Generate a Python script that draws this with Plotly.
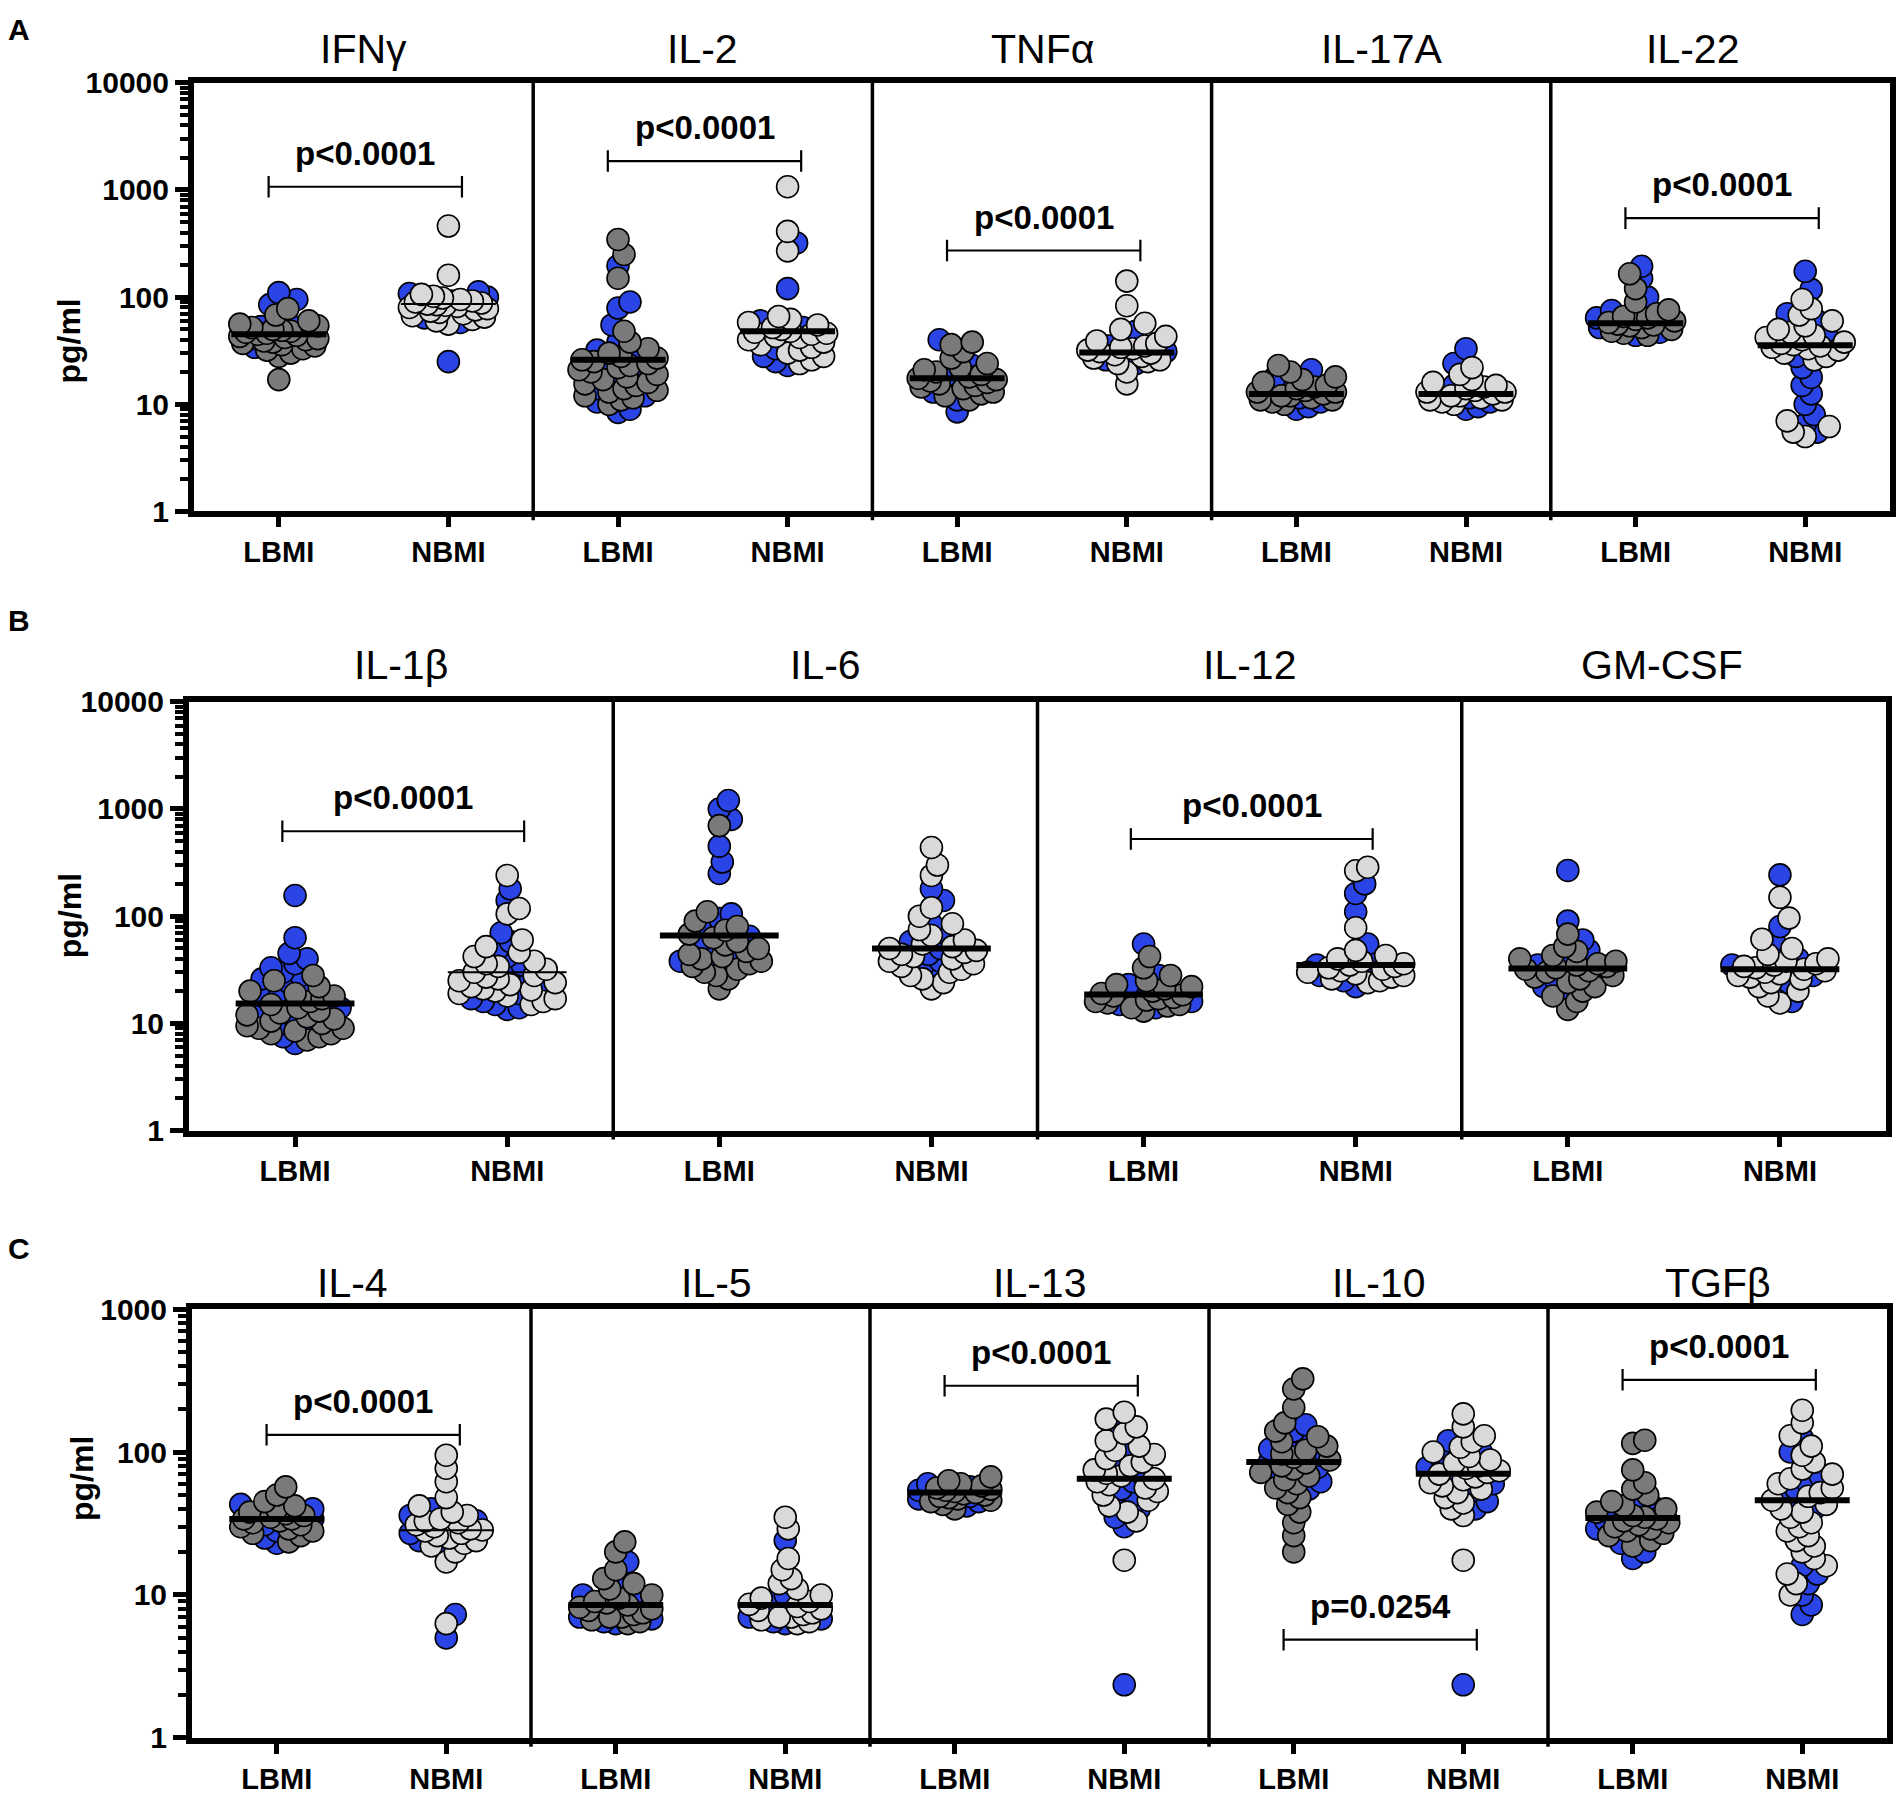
import numpy as np
import plotly.graph_objects as go

# ---------------- data (pg/ml) ----------------
ROW_A = ["IFNγ", "IL-2", "TNFα", "IL-17A", "IL-22"]
ROW_B = ["IL-1β", "IL-6", "IL-12", "GM-CSF"]
ROW_C = ["IL-4", "IL-5", "IL-13", "IL-10", "TGFβ"]
GROUPS = ["LBMI", "NBMI"]
Y_TICK_TEXT = ["1", "10", "100", "1000", "10000"]

IFNG_L_BLUE = [34, 38, 41, 44, 47, 50, 53, 58, 85, 95, 110]
IFNG_L_GRAY = [17, 28, 30, 32, 33, 35, 36, 37, 38, 39, 40, 41, 42, 43, 44, 45, 46, 47, 48, 49, 50, 52, 54, 56, 60, 68, 78]
IFNG_N_BLUE = [25, 58, 64, 70, 78, 85, 92, 100, 108, 112]
IFNG_N_GRAY = [56, 60, 62, 65, 67, 70, 72, 74, 76, 78, 80, 82, 84, 85, 86, 88, 90, 92, 95, 98, 102, 106, 160, 460]

IL2_L_BLUE = [8.4, 9, 10.5, 12, 14, 17, 20, 23, 27, 32, 38, 55, 79, 90, 196]
IL2_L_GRAY = [10, 11, 11.5, 12, 13, 13.5, 14, 15, 15.5, 16, 17, 18, 19, 20, 21, 22, 23, 24, 25, 26, 27, 28, 30, 33, 38, 48, 150, 250, 345]
IL2_N_BLUE = [23, 25, 28, 33, 40, 46, 52, 60, 120, 320]
IL2_N_GRAY = [24, 26, 28, 30, 32, 34, 36, 38, 40, 42, 43, 45, 46, 47, 48, 50, 52, 55, 58, 62, 66, 270, 410, 1070]

TNFA_L_BLUE = [8.5, 11, 13, 15, 17, 19, 23, 40]
TNFA_L_GRAY = [11, 12, 12.5, 13, 14, 14.5, 15, 15.5, 16, 16.5, 17, 17.5, 18, 19, 20, 21, 22, 24, 27, 31, 36, 38]
TNFA_N_BLUE = [24, 26, 28, 31, 35, 40, 48]
TNFA_N_GRAY = [15.5, 20, 24, 25, 26, 27, 28, 29, 30, 31, 32, 33, 34, 35, 37, 39, 43, 50, 57, 83, 141]

IL17A_L_BLUE = [9, 9.5, 10.5, 11.5, 13, 15, 18, 21]
IL17A_L_GRAY = [10, 10.5, 11, 11, 11.5, 12, 12, 12.5, 13, 13, 13.5, 14, 14.5, 15, 16, 17, 18, 20, 23]
IL17A_N_BLUE = [9, 9.5, 10.5, 11.5, 13, 15, 24, 33]
IL17A_N_GRAY = [10, 10.5, 11, 11, 11.5, 12, 12, 12.5, 13, 13, 13.5, 14, 14.5, 15, 16, 17, 19, 22]

IL22_L_BLUE = [44, 47, 52, 58, 64, 75, 100, 150, 194]
IL22_L_GRAY = [44, 46, 48, 50, 52, 54, 55, 56, 58, 60, 62, 64, 66, 70, 76, 90, 120, 165]
IL22_N_BLUE = [5.5, 6.5, 8, 10, 12.5, 15, 17.8, 22, 28, 38, 48, 60, 70, 118, 174]
IL22_N_GRAY = [5, 5.5, 6.2, 7, 26, 28, 30, 32, 33, 34, 35, 36, 37, 38, 40, 42, 44, 47, 50, 54, 60, 68, 78, 95]

IL1B_L_BLUE = [6.5, 7.5, 9, 10, 11, 12, 14, 16, 18, 20, 22, 24, 26, 28, 30, 33, 36, 40, 45, 63, 156]
IL1B_L_GRAY = [7, 7.5, 8, 8, 8.5, 9, 9, 9.5, 10, 10.5, 11, 11.5, 12, 12.5, 13, 14, 15, 16, 17, 18, 19, 20, 22, 25, 28]
IL1B_N_BLUE = [13.5, 14, 15, 16, 17, 19, 22, 25, 30, 35, 42, 50, 58, 70, 140, 180]
IL1B_N_GRAY = [15, 16, 17, 18, 19, 20, 20.5, 21, 22, 23, 24, 25, 26, 27, 28, 30, 32, 34, 36, 38, 42, 46, 52, 60, 105, 118, 240]

IL6_L_BLUE = [34, 36, 38, 42, 48, 55, 65, 80, 95, 105, 250, 320, 450, 800, 1000, 1200]
IL6_L_GRAY = [21, 26, 28, 30, 32, 34, 36, 38, 40, 42, 44, 47, 50, 54, 58, 63, 68, 74, 80, 90, 110, 700]
IL6_N_BLUE = [30, 34, 38, 44, 50, 58, 70, 85, 140, 180]
IL6_N_GRAY = [21, 24, 26, 28, 30, 32, 34, 36, 38, 40, 42, 44, 46, 48, 50, 52, 55, 60, 66, 75, 85, 100, 120, 240, 300, 437]

IL12_L_BLUE = [14, 15, 16, 17, 18, 20, 23, 28, 55]
IL12_L_GRAY = [13, 14, 14.5, 15, 15.5, 16, 16.5, 17, 17.5, 18, 18.5, 19, 20, 21, 22, 23, 25, 28, 33, 42]
IL12_N_BLUE = [22, 25, 28, 31, 35, 40, 55, 110, 163, 200]
IL12_N_GRAY = [24, 25, 26, 27, 28, 29, 30, 31, 32, 33, 34, 35, 36, 38, 40, 43, 48, 78, 265, 286]

GMCSF_L_BLUE = [18, 22, 25, 28, 31, 35, 40, 48, 60, 90, 267]
GMCSF_L_GRAY = [13.5, 16, 18, 20, 22, 24, 26, 27, 28, 30, 31, 32, 33, 34, 35, 36, 38, 40, 43, 47, 52, 68]
GMCSF_N_BLUE = [16, 20, 24, 28, 31, 35, 40, 48, 60, 80, 243]
GMCSF_N_GRAY = [15.5, 18, 20, 22, 24, 26, 27, 28, 29, 30, 31, 32, 33, 34, 35, 36, 38, 40, 44, 50, 61, 96, 150]

IL4_L_BLUE = [23, 25, 28, 31, 34, 37, 40, 43]
IL4_L_GRAY = [23.5, 26, 27, 28, 29, 30, 31, 32, 33, 34, 34, 35, 36, 37, 38, 40, 42, 45, 50, 57]
IL4_N_BLUE = [5, 7.3, 21, 24, 27, 30, 33, 36, 40]
IL4_N_GRAY = [6.3, 17, 20, 22, 23, 24, 25, 26, 27, 28, 28.5, 29, 30, 31, 32, 33, 34, 36, 38, 42, 48, 62, 77, 95]

IL5_L_BLUE = [6.3, 6.5, 6.8, 7, 7.5, 8, 9, 10, 12, 17]
IL5_L_GRAY = [6.3, 6.5, 6.7, 7, 7, 7.3, 7.5, 7.8, 8, 8.2, 8.5, 8.8, 9, 9.5, 10, 11, 12, 13, 15, 20, 23.5]
IL5_N_BLUE = [6.3, 6.5, 6.8, 7, 7.5, 8, 9, 10, 24]
IL5_N_GRAY = [6.3, 6.5, 6.7, 7, 7, 7.3, 7.5, 7.8, 8, 8.3, 8.6, 9, 9.5, 10, 11, 12, 13, 15, 18, 29, 35]

IL13_L_BLUE = [42, 45, 47, 49, 51, 54, 57, 60]
IL13_L_GRAY = [40, 43, 45, 46, 47, 48, 49, 50, 51, 52, 53, 54, 55, 56, 58, 60, 63, 67]
IL13_N_BLUE = [2.35, 30, 35, 40, 45, 50, 55, 62, 70, 85, 100, 160]
IL13_N_GRAY = [17.5, 33, 38, 42, 46, 50, 53, 56, 59, 62, 65, 68, 71, 75, 80, 85, 90, 96, 103, 110, 120, 135, 150, 170, 190]

IL10_L_BLUE = [55, 62, 70, 78, 86, 95, 105, 115, 125, 140, 155]
IL10_L_GRAY = [20, 26, 32, 38, 43, 48, 52, 56, 60, 64, 68, 72, 76, 80, 84, 88, 92, 97, 103, 110, 118, 128, 140, 160, 205, 276, 325]
IL10_N_BLUE = [2.35, 40, 45, 52, 60, 68, 78, 88, 100, 120]
IL10_N_GRAY = [17.5, 36, 40, 44, 48, 52, 55, 58, 61, 64, 67, 70, 72, 74, 77, 80, 84, 88, 93, 100, 108, 118, 130, 150, 185]

TGFB_L_BLUE = [18, 20, 23, 26, 29, 33, 37, 41, 45]
TGFB_L_GRAY = [22, 24, 26, 27, 28, 29, 30, 31, 32, 33, 34, 35, 36, 38, 40, 42, 45, 50, 55, 61, 75, 115, 121]
TGFB_N_BLUE = [7.3, 8.5, 10, 12, 14, 16, 40, 45, 50, 55, 60, 68, 100, 125]
TGFB_N_GRAY = [10, 12, 14, 16, 18, 20, 22, 24, 26, 28, 30, 32, 35, 38, 40, 43, 46, 49, 52, 56, 60, 65, 70, 76, 85, 95, 110, 130, 160, 196]

CYTOKINES = ROW_A + ROW_B + ROW_C
MEDIAN_LBMI = [45, 26, 17.5, 12.5, 57, 15.3, 66, 18.6, 32.5, 34, 8.5, 52, 85, 34.5]
MEDIAN_NBMI = [86, 48, 30.5, 12.5, 35.5, 30, 50, 35, 32, 28.4, 8.5, 65, 70.6, 46]

P_TEXT = {"IFNγ": "p<0.0001", "IL-2": "p<0.0001", "TNFα": "p<0.0001", "IL-22": "p<0.0001",
          "IL-1β": "p<0.0001", "IL-12": "p<0.0001", "IL-4": "p<0.0001", "IL-13": "p<0.0001",
          "IL-10": "p=0.0254", "TGFβ": "p<0.0001"}

DATA = {
    "IFNγ": {"LBMI": (IFNG_L_BLUE, IFNG_L_GRAY), "NBMI": (IFNG_N_BLUE, IFNG_N_GRAY)},
    "IL-2": {"LBMI": (IL2_L_BLUE, IL2_L_GRAY), "NBMI": (IL2_N_BLUE, IL2_N_GRAY)},
    "TNFα": {"LBMI": (TNFA_L_BLUE, TNFA_L_GRAY), "NBMI": (TNFA_N_BLUE, TNFA_N_GRAY)},
    "IL-17A": {"LBMI": (IL17A_L_BLUE, IL17A_L_GRAY), "NBMI": (IL17A_N_BLUE, IL17A_N_GRAY)},
    "IL-22": {"LBMI": (IL22_L_BLUE, IL22_L_GRAY), "NBMI": (IL22_N_BLUE, IL22_N_GRAY)},
    "IL-1β": {"LBMI": (IL1B_L_BLUE, IL1B_L_GRAY), "NBMI": (IL1B_N_BLUE, IL1B_N_GRAY)},
    "IL-6": {"LBMI": (IL6_L_BLUE, IL6_L_GRAY), "NBMI": (IL6_N_BLUE, IL6_N_GRAY)},
    "IL-12": {"LBMI": (IL12_L_BLUE, IL12_L_GRAY), "NBMI": (IL12_N_BLUE, IL12_N_GRAY)},
    "GM-CSF": {"LBMI": (GMCSF_L_BLUE, GMCSF_L_GRAY), "NBMI": (GMCSF_N_BLUE, GMCSF_N_GRAY)},
    "IL-4": {"LBMI": (IL4_L_BLUE, IL4_L_GRAY), "NBMI": (IL4_N_BLUE, IL4_N_GRAY)},
    "IL-5": {"LBMI": (IL5_L_BLUE, IL5_L_GRAY), "NBMI": (IL5_N_BLUE, IL5_N_GRAY)},
    "IL-13": {"LBMI": (IL13_L_BLUE, IL13_L_GRAY), "NBMI": (IL13_N_BLUE, IL13_N_GRAY)},
    "IL-10": {"LBMI": (IL10_L_BLUE, IL10_L_GRAY), "NBMI": (IL10_N_BLUE, IL10_N_GRAY)},
    "TGFβ": {"LBMI": (TGFB_L_BLUE, TGFB_L_GRAY), "NBMI": (TGFB_N_BLUE, TGFB_N_GRAY)},
}
MEDIANS = {g: dict(zip(CYTOKINES, m)) for g, m in (("LBMI", MEDIAN_LBMI), ("NBMI", MEDIAN_NBMI))}

# ---------------- layout / style ----------------
W, H = 1902, 1799
FONT = "Liberation Sans, Arial, Helvetica, sans-serif"
BLUE, DARK, LIGHT = "#2a44e6", "#7a7a7a", "#d9d9d9"
THIN_MEDIAN = {("IFNγ", "NBMI"), ("IL-1β", "NBMI"), ("IL-4", "NBMI")}
BRACKET_Y = {"IFNγ": 1070, "IL-2": 1860, "TNFα": 272, "IL-22": 546, "IL-1β": 620,
             "IL-12": 525, "IL-4": 132, "IL-13": 291, "IL-10": 4.86, "TGFβ": 320}
TITLE_DX = {"IL-22": -28, "GM-CSF": -12, "IL-4": -9, "IL-5": 16}
ROWS = [
    dict(names=ROW_A, left=194, right=1890, top=67, bottom=504, decades=4,
         title_y=33, ytitle_x=49, letter="A", letter_y=13),
    dict(names=ROW_B, left=189, right=1886, top=698, bottom=1135, decades=4,
         title_y=660, ytitle_x=50, letter="B", letter_y=615),
    dict(names=ROW_C, left=192, right=1887, top=1317, bottom=1754, decades=3,
         title_y=1290, ytitle_x=62, letter="C", letter_y=1255),
]
MARKER_SIZE = 22


def beeswarm(vals, ppd, ppu, sep=12.0, step=3.0, cap_units=0.115):
    """Horizontal offsets (axis units) so that points spread like a swarm."""
    cap = cap_units * ppu
    ys = np.log10(np.asarray(vals, float)) * ppd
    order = np.argsort(ys, kind="stable")
    kmax = int(cap // step)
    cands = [0.0]
    for k in range(1, kmax + 1):
        cands += [k * step, -k * step]
    cands = np.array(cands)
    px, py = [], []
    offs = np.zeros(len(ys))
    for i in order:
        y = ys[i]
        if px:
            P = np.array(px)
            Q = np.array(py)
            d = np.min(np.hypot(P[None, :] - cands[:, None], Q[None, :] - y), axis=1)
            ok = np.where(d >= sep)[0]
            c = cands[ok[0]] if len(ok) else cands[np.argmax(d)]
        else:
            c = 0.0
        px.append(c)
        py.append(y)
        offs[i] = c
    return offs / ppu


fig = go.Figure()
layout = dict(width=W, height=H, margin=dict(l=0, r=0, t=0, b=0),
              paper_bgcolor="white", plot_bgcolor="white", showlegend=False)
annotations, shapes = [], []

for r, row in enumerate(ROWS):
    sfx = "" if r == 0 else str(r + 1)
    xr, yr = "x" + sfx, "y" + sfx
    n = len(row["names"])
    ppu = (row["right"] - row["left"]) / n
    ppd = (row["bottom"] - row["top"]) / row["decades"]
    tickvals, ticktext = [], []
    for i, name in enumerate(row["names"]):
        centers = {}
        for j, grp in enumerate(GROUPS):
            c = i + 0.25 + 0.5 * j
            centers[grp] = c
            tickvals.append(c)
            ticktext.append(grp)
            blue, gray = DATA[name][grp]
            vals = list(blue) + list(gray)
            offs = beeswarm(vals, ppd, ppu)
            nb = len(blue)
            xs = c + offs
            fig.add_trace(go.Scatter(
                x=xs[:nb], y=blue, mode="markers", xaxis=xr, yaxis=yr, hoverinfo="skip",
                cliponaxis=False,
                marker=dict(size=MARKER_SIZE, color=BLUE, line=dict(color="black", width=1.6))))
            fig.add_trace(go.Scatter(
                x=xs[nb:], y=gray, mode="markers", xaxis=xr, yaxis=yr, hoverinfo="skip",
                cliponaxis=False,
                marker=dict(size=MARKER_SIZE, color=DARK if grp == "LBMI" else LIGHT,
                            line=dict(color="black", width=1.6))))
            med = MEDIANS[grp][name]
            thin = (name, grp) in THIN_MEDIAN
            fig.add_trace(go.Scatter(
                x=[c - 0.14, c + 0.14], y=[med, med], mode="lines", xaxis=xr, yaxis=yr,
                hoverinfo="skip", cliponaxis=False,
                line=dict(color="black", width=2 if thin else 6)))
        # significance bracket
        if name in P_TEXT:
            yb = BRACKET_Y[name]
            xa, xb = centers["LBMI"] - 0.03, centers["NBMI"] + 0.04
            f = 10 ** (11 / ppd)
            fig.add_trace(go.Scatter(
                x=[xa, xb, None, xa, xa, None, xb, xb],
                y=[yb, yb, None, yb / f, yb * f, None, yb / f, yb * f],
                mode="lines", xaxis=xr, yaxis=yr, hoverinfo="skip", cliponaxis=False,
                line=dict(color="black", width=2.2)))
            annotations.append(dict(
                x=(xa + xb) / 2, y=np.log10(yb), xref=xr, yref=yr, text=P_TEXT[name],
                showarrow=False, yanchor="bottom", yshift=13,
                font=dict(family=FONT, size=33, color="black", weight="bold")))
        # panel title
        annotations.append(dict(
            x=i + 0.5 + TITLE_DX.get(name, 0) / ppu, y=1 - row["title_y"] / H,
            xref=xr, yref="paper", text=name, showarrow=False, yanchor="middle",
            font=dict(family=FONT, size=41, color="black")))
        # divider
        if i > 0:
            shapes.append(dict(type="line", xref=xr, yref="paper", x0=i, x1=i,
                               y0=1 - (row["bottom"] + 9) / H, y1=1 - (row["top"] - 5) / H,
                               line=dict(color="black", width=3.5)))
    dec = row["decades"]
    minor_vals = [m * 10 ** e for e in range(dec) for m in range(2, 10)]
    layout["xaxis" + sfx] = dict(
        domain=[row["left"] / W, row["right"] / W], range=[0, n], anchor=yr,
        showline=True, linewidth=6, linecolor="black", mirror=True,
        ticks="outside", ticklen=10, tickwidth=5, tickcolor="black",
        tickvals=tickvals, ticktext=ticktext, ticklabelstandoff=0,
        tickfont=dict(family=FONT, size=29, color="black", weight="bold"),
        showgrid=False, zeroline=False, fixedrange=True)
    layout["yaxis" + sfx] = dict(
        domain=[1 - row["bottom"] / H, 1 - row["top"] / H], type="log", range=[0, dec],
        anchor=xr, showline=True, linewidth=6, linecolor="black", mirror=True,
        ticks="outside", ticklen=13, tickwidth=5, tickcolor="black",
        tickvals=[10 ** k for k in range(dec + 1)], ticktext=Y_TICK_TEXT[:dec + 1],
        tickfont=dict(family=FONT, size=30, color="black", weight="bold"),
        minor=dict(ticks="outside", ticklen=8, tickwidth=4, tickcolor="black",
                   tickmode="array", tickvals=minor_vals, showgrid=False),
        showgrid=False, zeroline=False, fixedrange=True)
    annotations.append(dict(
        x=row["ytitle_x"] / W, y=1 - (row["top"] + row["bottom"]) / 2 / H,
        xref="paper", yref="paper", text="pg/ml", textangle=-90, showarrow=False,
        font=dict(family=FONT, size=32, color="black", weight="bold")))
    annotations.append(dict(
        x=6 / W, y=1 - row["letter_y"] / H, xref="paper", yref="paper",
        text=row["letter"], showarrow=False, xanchor="left", yanchor="middle",
        font=dict(family=FONT, size=30, color="black", weight="bold")))

layout["annotations"] = annotations
layout["shapes"] = shapes
fig.update_layout(**layout)
fig.write_html("out.html", config={"displayModeBar": False},
               post_script="document.body.style.margin='0px';document.body.style.overflow='hidden';")
